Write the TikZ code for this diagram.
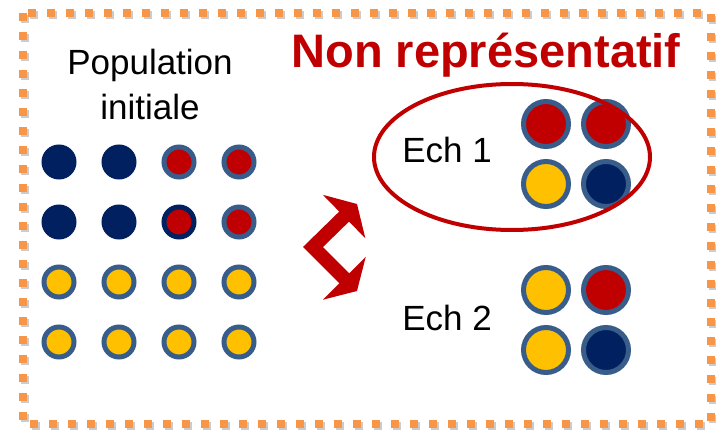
\documentclass[tikz,border=0pt]{standalone}
\usepackage{fontspec}
\setmainfont{Liberation Sans}
\usetikzlibrary{shapes.geometric,arrows.meta}
\definecolor{navyblue}{HTML}{002060}
\definecolor{darkred}{HTML}{C00000}
\definecolor{gold}{HTML}{FFC000}
\definecolor{ringblue}{HTML}{385D8A}
\definecolor{framepeach}{HTML}{F79646}

\begin{document}
\begin{tikzpicture}[x=1pt,y=-1pt,
  dot/.style={circle,inner sep=0pt,minimum size=30pt,line width=5pt},
  bigdot/.style={circle,inner sep=0pt,minimum size=45pt,line width=5pt},
  dk/.style={dot,draw=navyblue,fill=navyblue},
  rd/.style={dot,draw=ringblue,fill=darkred},
  yl/.style={dot,draw=ringblue,fill=gold},
  bigrd/.style={bigdot,draw=ringblue,fill=darkred},
  bigyl/.style={bigdot,draw=ringblue,fill=gold},
  bigdk/.style={bigdot,draw=ringblue,fill=navyblue},
  label/.style={font=\fontsize{35}{45}\selectfont,align=center}]
\useasboundingbox (0,0) rectangle (716,431);
% frame with shadow
\draw[black!20,line width=8pt,dash pattern=on 8pt off 11pt] (25,15) rectangle (713,426);
\draw[framepeach,line width=8pt,dash pattern=on 8pt off 11pt] (23,13) rectangle (711,424);
% texts
\node[label,anchor=north] (pop) at (150,46) {Population\\initiale};
\node[font=\fontsize{47}{50}\selectfont\bfseries,text=darkred,anchor=base] (title) at (486,67) {Non représentatif};
\node[label,anchor=base] (ech1) at (447,162) {Ech 1};
\node[label,anchor=base] (ech2) at (447,330) {Ech 2};
% initial population
\node[dk] (p11) at (59,162) {};
\node[dk] (p12) at (119,162) {};
\node[rd] (p13) at (179,162) {};
\node[rd] (p14) at (239,162) {};
\node[dk] (p21) at (59,222) {};
\node[dk] (p22) at (119,222) {};
\node[dot,draw=navyblue,fill=darkred] (p23) at (179,222) {};
\node[rd] (p24) at (239,222) {};
\node[yl] (p31) at (59,282) {};
\node[yl] (p32) at (119,282) {};
\node[yl] (p33) at (179,282) {};
\node[yl] (p34) at (239,282) {};
\node[yl] (p41) at (59,342) {};
\node[yl] (p42) at (119,342) {};
\node[yl] (p43) at (179,342) {};
\node[yl] (p44) at (239,342) {};
% sample 1
\node[bigrd] (a1) at (546,124) {};
\node[bigrd] (a2) at (606,124) {};
\node[bigyl] (a3) at (546,184) {};
\node[bigdk] (a4) at (606,184) {};
\node[ellipse,draw=darkred,line width=4pt,minimum width=276pt,minimum height=146pt] (oval) at (512,157) {};
% sample 2
\node[bigyl] (b1) at (546,290) {};
\node[bigrd] (b2) at (606,290) {};
\node[bigyl] (b3) at (546,350) {};
\node[bigdk] (b4) at (606,350) {};
% double arrow
\coordinate (bend) at (313,247);
\coordinate (up) at (357,204);
\coordinate (down) at (357,291);
\draw[darkred,line width=14pt,miter limit=4,{Triangle[width=60pt,length=18pt]}-{Triangle[width=60pt,length=18pt]}] (up) -- (bend) -- (down);
\end{tikzpicture}
\end{document}
